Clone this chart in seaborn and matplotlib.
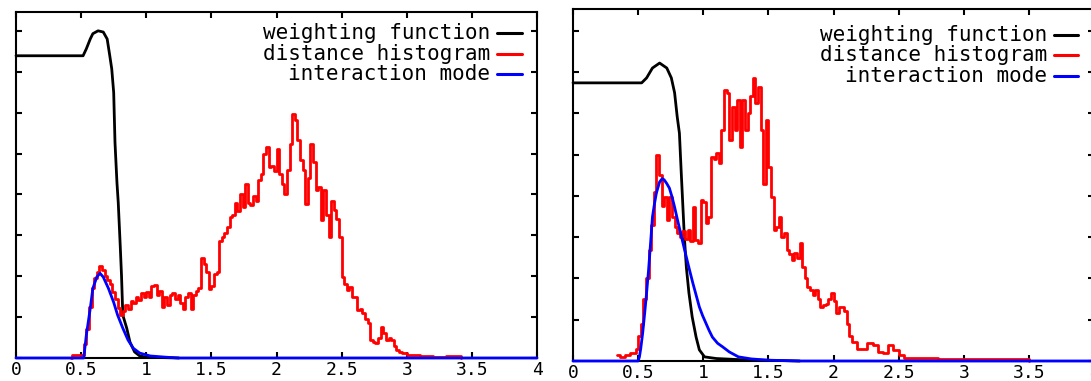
import numpy as np
import matplotlib
matplotlib.use('Agg')
import matplotlib.pyplot as plt
import seaborn as sns

sns.set_style("ticks")
plt.rcParams['font.family'] = ['DejaVu Sans Mono']
plt.rcParams.update({'axes.edgecolor': 'black', 'xtick.color': 'black',
                     'ytick.color': 'black', 'text.color': 'black'})

labels = ["weighting function", "distance histogram", "interaction mode"]
colors = ["black", "red", "blue"]
xtick_vals = [0, 0.5, 1, 1.5, 2, 2.5, 3, 3.5, 4]
xtick_labels = ["0", "0.5", "1", "1.5", "2", "2.5", "3", "3.5", "4"]
ytick_vals = [0, 1, 2, 3, 4, 5, 6, 7, 8]

# ---- left panel ----
left_w_x = [0, 0.515, 0.54, 0.57, 0.59, 0.63, 0.67, 0.70, 0.72, 0.735, 0.75, 0.76,
            0.775, 0.785, 0.80, 0.81, 0.82, 0.85, 0.875, 0.91, 0.95, 1.0, 1.25]
left_w_y = [7.39, 7.39, 7.56, 7.8, 7.93, 8.0, 7.97, 7.8, 7.39, 7.07, 6.49, 5.27,
            4.29, 3.8, 2.76, 2.02, 1.05, 0.73, 0.39, 0.15, 0.05, 0.02, 0.0]

left_h_x = [0.42, 0.43, 0.52, 0.54, 0.56, 0.58, 0.60, 0.62, 0.64, 0.66, 0.68, 0.70,
            0.72, 0.74, 0.76, 0.78, 0.80, 0.82, 0.84, 0.86, 0.88, 0.90, 0.92, 0.94,
            0.96, 0.98, 1.00, 1.02, 1.04, 1.06, 1.08, 1.10, 1.12, 1.14, 1.16, 1.18,
            1.20, 1.22, 1.24, 1.26, 1.28, 1.30, 1.32, 1.34, 1.36, 1.38, 1.40, 1.42,
            1.44, 1.46, 1.48, 1.50, 1.52, 1.54, 1.56, 1.58, 1.60, 1.62, 1.64, 1.66,
            1.68, 1.70, 1.72, 1.74, 1.76, 1.78, 1.80, 1.82, 1.84, 1.86, 1.88, 1.90,
            1.92, 1.94, 1.96, 1.98, 2.00, 2.02, 2.04, 2.06, 2.08, 2.10, 2.12, 2.14,
            2.16, 2.18, 2.20, 2.22, 2.24, 2.26, 2.28, 2.30, 2.32, 2.34, 2.36, 2.38,
            2.40, 2.42, 2.44, 2.46, 2.48, 2.50, 2.52, 2.54, 2.56, 2.58, 2.60, 2.62,
            2.64, 2.66, 2.68, 2.70, 2.72, 2.74, 2.76, 2.78, 2.80, 2.82, 2.84, 2.86,
            2.88, 2.90, 2.92, 2.94, 2.96, 3.00, 3.10, 3.20, 3.30, 3.42]
left_h_y = [0.0, 0.07, 0.35, 0.7, 1.25, 1.7, 1.95, 2.1, 2.25, 2.15, 2.0, 1.9,
            1.8, 1.62, 1.45, 1.22, 1.05, 1.15, 1.3, 1.2, 1.4, 1.35, 1.5, 1.42,
            1.6, 1.5, 1.62, 1.48, 1.75, 1.78, 1.55, 1.65, 1.25, 1.5, 1.3, 1.55,
            1.6, 1.45, 1.55, 1.35, 1.2, 1.5, 1.6, 1.2, 1.55, 1.65, 1.7, 2.45,
            2.3, 2.1, 1.68, 1.75, 2.05, 2.1, 2.85, 2.95, 3.05, 3.2, 3.45, 3.5,
            3.8, 3.6, 4.02, 3.7, 4.26, 3.8, 3.75, 3.95, 3.85, 4.35, 4.5, 5.0,
            5.15, 4.66, 4.7, 4.58, 5.12, 4.5, 4.26, 4.02, 4.6, 5.24, 5.97, 5.81,
            5.32, 4.83, 4.6, 3.77, 4.4, 5.24, 4.8, 4.1, 4.18, 3.37, 4.1, 3.5,
            2.96, 3.85, 3.61, 3.4, 2.96, 1.98, 1.8, 1.66, 1.74, 1.5, 1.49, 1.17,
            1.2, 1.09, 0.95, 0.85, 0.44, 0.4, 0.36, 0.5, 0.76, 0.6, 0.44, 0.5,
            0.44, 0.3, 0.2, 0.15, 0.12, 0.08, 0.04, 0.03, 0.04, 0.0]

left_m_x = [0, 0.52, 0.54, 0.57, 0.59, 0.62, 0.645, 0.67, 0.71, 0.75, 0.78, 0.82,
            0.86, 0.90, 0.95, 1.03, 1.15, 1.25, 4.0]
left_m_y = [0, 0, 0.56, 1.21, 1.7, 1.98, 2.07, 1.98, 1.7, 1.36, 1.05, 0.73,
            0.44, 0.24, 0.12, 0.05, 0.02, 0.0, 0.0]

# ---- right panel ----
right_w_x = [0, 0.527, 0.565, 0.61, 0.665, 0.72, 0.755, 0.78, 0.80, 0.817, 0.83,
             0.84, 0.855, 0.87, 0.89, 0.915, 0.945, 0.97, 1.01, 1.1, 1.3, 1.74]
right_w_y = [6.74, 6.74, 6.86, 7.1, 7.22, 7.1, 6.86, 6.5, 5.92, 5.52, 4.63,
             3.98, 3.0, 2.28, 1.65, 1.07, 0.58, 0.27, 0.1, 0.06, 0.03, 0.0]

right_h_x = [0.34, 0.36, 0.40, 0.44, 0.48, 0.50, 0.52, 0.54, 0.56, 0.58, 0.60,
             0.62, 0.64, 0.66, 0.68, 0.70, 0.72, 0.74, 0.76, 0.78, 0.80, 0.82,
             0.84, 0.86, 0.88, 0.90, 0.92, 0.94, 0.96, 0.98, 1.00, 1.02, 1.04,
             1.06, 1.08, 1.10, 1.12, 1.14, 1.16, 1.18, 1.20, 1.22, 1.24, 1.26,
             1.28, 1.30, 1.32, 1.34, 1.36, 1.38, 1.40, 1.42, 1.44, 1.46, 1.48,
             1.50, 1.52, 1.54, 1.56, 1.58, 1.60, 1.62, 1.64, 1.66, 1.68, 1.70,
             1.72, 1.74, 1.76, 1.78, 1.80, 1.82, 1.84, 1.86, 1.88, 1.90, 1.92,
             1.94, 1.96, 1.98, 2.00, 2.02, 2.04, 2.06, 2.08, 2.10, 2.12, 2.14,
             2.18, 2.22, 2.26, 2.30, 2.34, 2.38, 2.42, 2.46, 2.50, 2.54, 2.60,
             2.80, 3.00, 3.20, 3.40, 3.50]
right_h_y = [0.15, 0.1, 0.15, 0.2, 0.3, 0.6, 0.9, 1.5, 2.0, 2.7, 3.3,
             4.1, 4.99, 4.5, 3.75, 3.98, 3.42, 3.98, 3.49, 3.25, 3.1, 3.0,
             3.15, 2.95, 3.18, 2.9, 3.73, 2.93, 2.85, 3.9, 3.85, 3.35, 3.5,
             4.95, 4.9, 5.03, 4.8, 5.6, 6.57, 6.49, 5.36, 6.16, 5.6, 6.33,
             5.19, 6.33, 5.6, 6.0, 6.41, 6.86, 6.25, 6.65, 5.6, 4.3, 5.84,
             4.71, 3.98, 3.18, 3.25, 3.49, 3.0, 3.1, 2.69, 2.6, 2.45, 2.61,
             2.5, 2.86, 2.28, 2.0, 1.8, 1.73, 1.6, 1.73, 1.5, 1.31, 1.35,
             1.39, 1.5, 1.65, 1.45, 1.16, 1.3, 1.31, 1.2, 0.9, 0.6, 0.45,
             0.3, 0.3, 0.43, 0.39, 0.23, 0.19, 0.39, 0.27, 0.15, 0.08, 0.07,
             0.05, 0.06, 0.05, 0.04, 0.0]

right_m_x = [0, 0.50, 0.51, 0.52, 0.535, 0.55, 0.565, 0.58, 0.59, 0.60, 0.61, 0.625,
             0.64, 0.665, 0.685, 0.70, 0.72, 0.74, 0.76, 0.78, 0.80, 0.82, 0.845,
             0.87, 0.895, 0.92, 0.945, 0.97, 0.995, 1.02, 1.045, 1.07, 1.11, 1.15,
             1.2, 1.27, 1.37, 1.5, 1.74, 4.0]
right_m_y = [0, 0, 0.1, 0.3, 0.68, 1.15, 1.65, 2.2, 2.62, 3.05, 3.49, 3.8,
             4.07, 4.34, 4.42, 4.39, 4.3, 4.19, 3.98, 3.73, 3.45, 3.18, 2.85,
             2.52, 2.2, 1.89, 1.6, 1.31, 1.1, 0.92, 0.74, 0.58, 0.43, 0.34,
             0.22, 0.1, 0.05, 0.02, 0.0, 0.0]


def draw(ax, w_x, w_y, h_x, h_y, m_x, m_y, ytop, leg):
    common = dict(ax=ax, lw=2, estimator=None, sort=False, clip_on=False, zorder=3)
    sns.lineplot(x=w_x, y=w_y, color=colors[0], **common)
    sns.lineplot(x=h_x, y=h_y, color=colors[1], drawstyle='steps-post', **common)
    sns.lineplot(x=m_x, y=m_y, color=colors[2], **common)
    ax.set_xlim(0, 4)
    ax.set_ylim(0, ytop)
    ax.set_xticks(xtick_vals)
    ax.set_xticklabels(xtick_labels)
    ax.set_yticks(ytick_vals)
    ax.tick_params(direction='in', length=4, width=1.5, top=True, right=True,
                   labelleft=False, labelsize=13, pad=2.5)
    for sp in ax.spines.values():
        sp.set_linewidth(1.5)
    tx, lx0, lx1, y0, dy = leg
    for i, (lab, col) in enumerate(zip(labels, colors)):
        yy = y0 - i * dy
        ax.text(tx, yy, lab, transform=ax.transAxes, ha='right', va='center', fontsize=15)
        ax.plot([lx0, lx1], [yy, yy], transform=ax.transAxes, color=col, lw=2.2, clip_on=False)


fig = plt.figure(figsize=(10.91, 3.81), dpi=100)
ax1 = fig.add_axes([0.01467, 0.06037, 0.47754, 0.90814])
ax2 = fig.add_axes([0.52521, 0.05249, 0.47754, 0.92388])

draw(ax1, left_w_x, left_w_y, left_h_x, left_h_y, left_m_x, left_m_y, 8.46,
     (0.91, 0.923, 0.971, 0.939, 0.059))
draw(ax2, right_w_x, right_w_y, right_h_x, right_h_y, right_m_x, right_m_y, 8.53,
     (0.91, 0.923, 0.969, 0.926, 0.058))

fig.savefig('out.png', dpi=100)
